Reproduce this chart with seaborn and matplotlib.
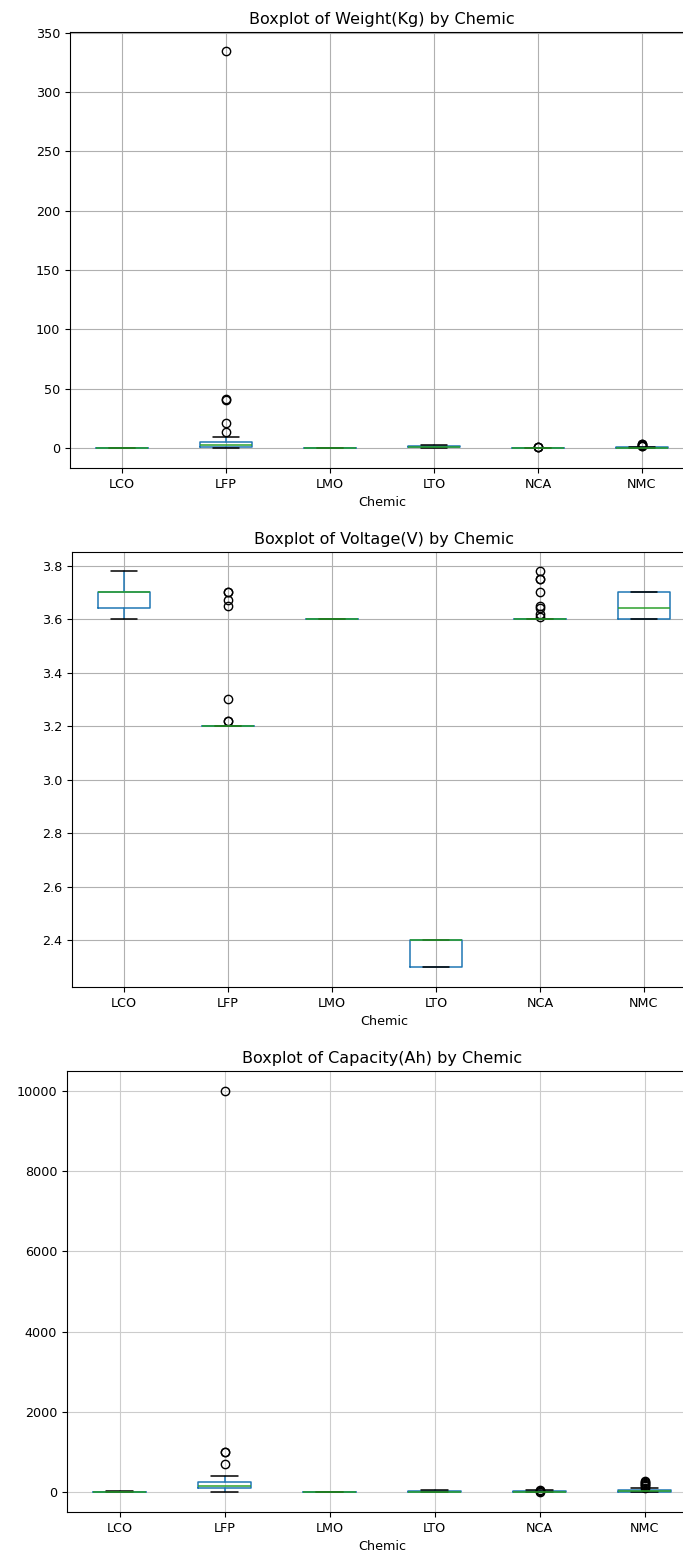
"""
Battery chemistry boxplots
==========================
Weight, voltage and capacity by chemistry, drawn from box summary stats.
"""

import matplotlib
matplotlib.use("Agg")
import matplotlib.pyplot as plt
import seaborn as sns

# ── Setup ──────────────────────────────────────────────────────────────────────
sns.set_style("ticks", {
    "axes.grid": True,
    "grid.color": "#b0b0b0",
    "axes.edgecolor": "black",
    "xtick.color": "black",
    "ytick.color": "black",
    "axes.labelcolor": "black",
    "text.color": "black",
})
plt.rcParams["font.family"] = ["DejaVu Sans"]
plt.rcParams.update({"figure.dpi": 100, "figure.facecolor": "white",
                     "text.color": "black",
                     "grid.linewidth": 0.8, "axes.linewidth": 0.8,
                     "xtick.major.size": 3.5, "ytick.major.size": 3.5,
                     "xtick.direction": "out", "ytick.direction": "out"})

CHEMIC = ["LCO", "LFP", "LMO", "LTO", "NCA", "NMC"]

# ── Data (box summary stats) ───────────────────────────────────────────────────
# Weight(Kg)
W_WHISLO = [0.0, 0.0, 0.0, 0.3, 0.0, 0.0]
W_Q1     = [0.02, 1.1, 0.02, 0.6, 0.02, 0.05]
W_MED    = [0.04, 2.5, 0.04, 1.0, 0.05, 0.2]
W_Q3     = [0.1, 5.3, 0.08, 1.6, 0.1, 0.5]
W_WHISHI = [0.3, 9.5, 0.2, 2.1, 0.3, 1.0]
W_FLIERS = [[], [13.2, 20.8, 40.5, 41.5, 335.0], [], [], [0.4, 0.6, 0.8],
            [1.5, 2.0, 2.5, 3.0, 3.4]]

# Voltage(V)
V_WHISLO = [3.6, 3.2, 3.6, 2.3, 3.6, 3.6]
V_Q1     = [3.64, 3.2, 3.6, 2.3, 3.6, 3.6]
V_MED    = [3.7, 3.2, 3.6, 2.4, 3.6, 3.64]
V_Q3     = [3.7, 3.2, 3.6, 2.4, 3.6, 3.7]
V_WHISHI = [3.78, 3.2, 3.6, 2.4, 3.6, 3.7]
V_FLIERS = [[], [3.22, 3.22, 3.3, 3.65, 3.67, 3.7, 3.7], [], [],
            [3.61, 3.62, 3.64, 3.65, 3.7, 3.75, 3.75, 3.78], []]

# Capacity(Ah)
C_WHISLO = [1, 15, 1, 10, 1, 2]
C_Q1     = [3, 115, 2, 15, 5, 8]
C_MED    = [10, 150, 4, 20, 12, 25]
C_Q3     = [20, 249, 8, 40, 25, 60]
C_WHISHI = [40, 414, 15, 60, 50, 110]
C_FLIERS = [[], [705, 996, 1000, 10000], [], [], [20, 40, 60],
            [120, 150, 180, 200, 230, 260, 280]]


def box_stats(whislo, q1, med, q3, whishi, fliers):
    return [{"label": lab, "whislo": a, "q1": b, "med": c, "q3": d,
             "whishi": e, "fliers": f}
            for lab, a, b, c, d, e, f in zip(CHEMIC, whislo, q1, med, q3, whishi, fliers)]


def draw_panel(ax, stats, title, ylim, fs=9.2, tfs=11.5, grid_color="#b0b0b0"):
    lw = 1.1
    ax.bxp(stats, widths=0.5, patch_artist=False,
           boxprops=dict(color="#1f77b4", linewidth=lw),
           whiskerprops=dict(color="#1f77b4", linewidth=lw),
           medianprops=dict(color="#2ca02c", linewidth=lw),
           capprops=dict(color="black", linewidth=lw),
           flierprops=dict(marker="o", markerfacecolor="none",
                           markeredgecolor="black", markersize=6))
    ax.set_xlim(0.5, 6.5)
    ax.set_ylim(*ylim)
    ax.grid(True, color=grid_color, linewidth=0.8)
    ax.set_axisbelow(True)
    ax.set_title(title, fontsize=tfs, color="black")
    ax.set_xlabel("Chemic", fontsize=fs, color="black")
    ax.tick_params(labelsize=fs, colors="black")
    for s in ax.spines.values():
        s.set_visible(True)
        s.set_color("black")


W, H = 683, 1554
fig = plt.figure(figsize=(W / 100, H / 100), dpi=100)

ax1 = fig.add_axes([70 / W, 1 - 468 / H, 624 / W, 436 / H])
draw_panel(ax1, box_stats(W_WHISLO, W_Q1, W_MED, W_Q3, W_WHISHI, W_FLIERS),
           "Boxplot of Weight(Kg) by Chemic", (-16.9, 350.6))

ax2 = fig.add_axes([72 / W, 1 - 987 / H, 624 / W, 435 / H])
draw_panel(ax2, box_stats(V_WHISLO, V_Q1, V_MED, V_Q3, V_WHISHI, V_FLIERS),
           "Boxplot of Voltage(V) by Chemic", (2.226, 3.851))

ax3 = fig.add_axes([67 / W, 1 - 1512 / H, 630 / W, 441 / H])
draw_panel(ax3, box_stats(C_WHISLO, C_Q1, C_MED, C_Q3, C_WHISHI, C_FLIERS),
           "Boxplot of Capacity(Ah) by Chemic", (-490, 10490),
           grid_color="#cccccc")

fig.savefig("out.png", dpi=100, facecolor="white")
